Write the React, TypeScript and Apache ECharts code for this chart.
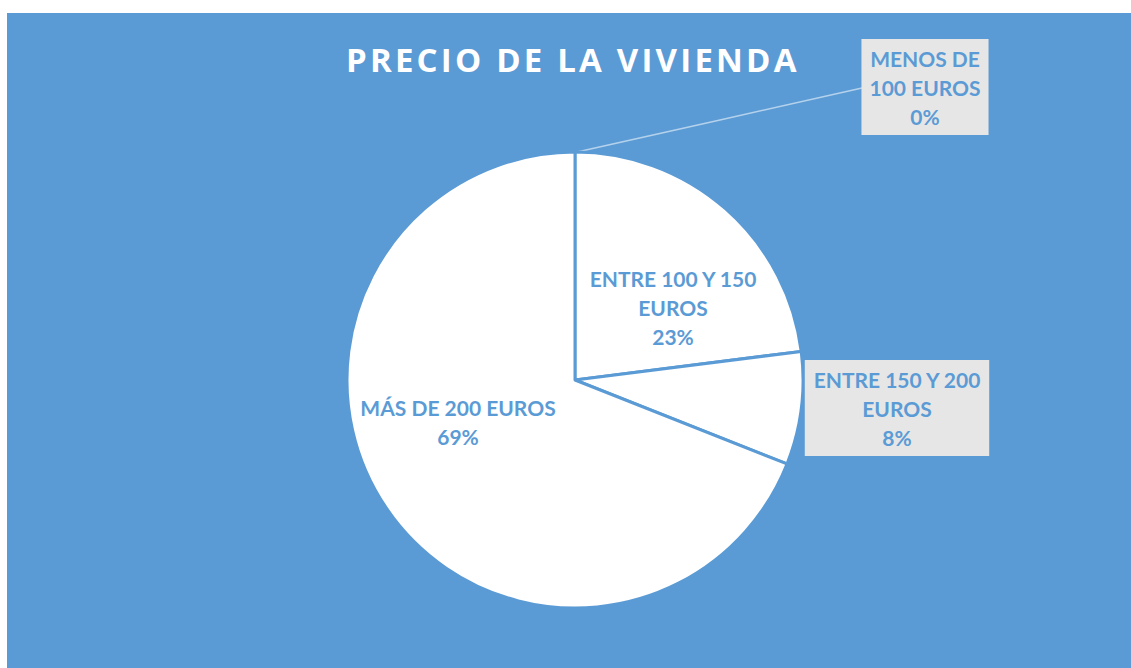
import React, { useEffect, useRef } from "react";
import * as echarts from "echarts";

const categories = ["MENOS DE 100 EUROS", "ENTRE 100 Y 150 EUROS", "ENTRE 150 Y 200 EUROS", "MÁS DE 200 EUROS"];
const labelLines = [["MENOS DE", "100 EUROS"], ["ENTRE 100 Y 150", "EUROS"], ["ENTRE 150 Y 200", "EUROS"], ["MÁS DE 200 EUROS"]];
const values = [0, 23, 8, 69];
const titleText = "PRECIO DE LA VIVIENDA";

const BLUE = "#5B9BD5";
const BOX = "#E7E6E6";
const FONT = "Lato, 'Liberation Sans', sans-serif";

// label anchor positions (label centres)
const labelPos = [
  [925, 87],
  [673, 307],
  [897, 408],
  [458, 422],
];

export default function App() {
  const ref = useRef<HTMLDivElement>(null);
  useEffect(() => {
    if (!ref.current) return;
    const chart = echarts.init(ref.current, null, { renderer: "svg" });
    const data = categories.map((name, i) => {
      const outside = i === 0 || i === 2;
      return {
        name,
        value: values[i],
        label: {
          position: outside ? "outside" : "inside",
          backgroundColor: outside ? BOX : "transparent",
          padding: outside ? [5, 8, 4, 8] : 0,
          formatter: () => labelLines[i].join("\n") + "\n" + values[i] + "%",
        },
        labelLine: { show: i === 0 },
      };
    });
    chart.setOption({
      animation: false,
      backgroundColor: "#ffffff",
      graphic: [
        {
          type: "rect",
          silent: true,
          z: -10,
          shape: { x: 7, y: 13, width: 1124, height: 655 },
          style: { fill: BLUE },
        },
      ],
      title: {
        text: titleText,
        left: 341,
        top: 38,
        textStyle: {
          color: "#ffffff",
          fontFamily: "'Open Sans', sans-serif",
          fontWeight: "bold",
          fontSize: 33,
        },
      },
      series: [
        {
          type: "pie",
          center: [575, 380],
          radius: 228,
          startAngle: 90,
          clockwise: true,
          avoidLabelOverlap: false,
          stillShowZeroSum: true,
          itemStyle: { color: "#ffffff", borderColor: BLUE, borderWidth: 3 },
          emphasis: { disabled: true },
          label: {
            show: true,
            color: BLUE,
            fontFamily: FONT,
            fontWeight: "bold",
            fontSize: 21,
            lineHeight: 29,
            align: "center",
          },
          labelLine: {
            show: false,
            lineStyle: { color: "rgba(255,255,255,0.55)", width: 1.5 },
          },
          labelLayout: (params: any) => {
            const i = params.dataIndex;
            const p = labelPos[i];
            const res: any = {
              x: p[0],
              y: p[1],
              align: "center",
              verticalAlign: "middle",
            };
            if (i === 0) {
              res.labelLinePoints = [
                [577, 152],
                [720, 120],
                [862, 88],
              ];
            }
            return res;
          },
          data,
        },
      ],
    });
    return () => chart.dispose();
  }, []);
  return (
    <>
      <style>{`text[style*="Open Sans"]{letter-spacing:3.2px;}`}</style>
      <div
        ref={ref}
        style={{ position: "fixed", left: 0, top: 0, width: 1131, height: 668 }}
      />
    </>
  );
}
